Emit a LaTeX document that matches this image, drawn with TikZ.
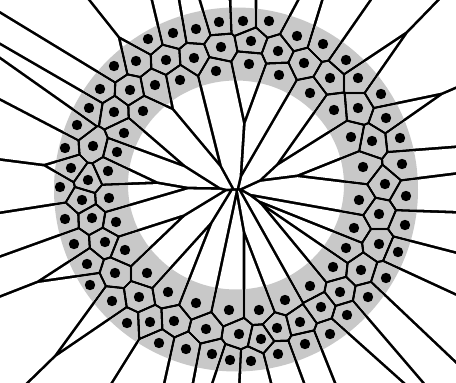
\documentclass[tikz,border=0pt]{standalone}
\definecolor{annul}{RGB}{200,200,200}
\makeatletter
\def\vorpts{148/39,136/61,166/60,114/66,130/90,155/85,100/89,89/108,114/112,143/111,77/125,124/133,93/146,65/148,117/152,71/168,108/171,88/180,60/187,109/198,82/200,65/219,92/218,116/222,74/244,105/242,125/250,87/264,115/273,147/273,90/285,112/301,139/297,168/292,196/303,127/323,150/322,174/321,206/329,159/343,186/349,212/354,230/360,229/310,239/334,251/361,261/339,259/310,277/328,278/354,285/300,305/344,300/322,330/334,321/307,310/286,340/292,333/267,347/315,368/297,361/270,386/278,346/248,379/244,398/252,354/228,405/225,379/214,359/200,406/196,385/184,363/167,402/164,351/137,372/141,400/138,334/110,358/108,386/118,310/93,381/94,330/78,358/78,304/63,346/60,323/44,297/36,279/75,278/51,269/21,249/64,251/41,243/21,216/71,221/47,219/22,194/58,196/29,173/33,180/80}
\newcount\vdx \newcount\vdy \newcount\vL \newcount\vnx \newcount\vny
\newcount\vcx \newcount\vcy \newcount\vmx \newcount\vmy
\newcount\vox \newcount\voy \newcount\vlen
\def\vorsplit#1/#2\@nil{\def\qx{#1}\def\qy{#2}}
\def\vorpt#1#2{\pgfqpoint{\dimexpr#1\relax}{-\dimexpr#2\relax}}
% half line width 1.4pt = 91750sp; times 10 (length in tenths of pt)
\def\vorhalf{917504}
\def\vorclip{%
  \vdx=\numexpr\qx-\px\relax
  \vdy=\numexpr\qy-\py\relax
  \vL=\numexpr\ifnum\vdx<0 -\fi\vdx+\ifnum\vdy<0 -\fi\vdy\relax
  \ifnum\vL>0
    \vnx=\numexpr(-\vdy*65536/\vL)*2000\relax
    \vny=\numexpr(\vdx*65536/\vL)*2000\relax
    \vcx=\numexpr(-\vdx*65536/\vL)*2000\relax
    \vcy=\numexpr(-\vdy*65536/\vL)*2000\relax
    \vmx=\numexpr\qx+\px\relax
    \vmy=\numexpr\qy+\py\relax
    \pgfmathveclen{\the\vdx}{\the\vdy}%
    \vlen=\dimexpr\pgfmathresult pt\relax
    \vlen=\numexpr\vlen/6554\relax
    \vox=\numexpr-\vdx*\vorhalf/\vlen\relax
    \voy=\numexpr-\vdy*\vorhalf/\vlen\relax
    \pgfpathmoveto{\vorpt{\vmx pt/2+\vnx sp+\vox sp}{\vmy pt/2+\vny sp+\voy sp}}%
    \pgfpathlineto{\vorpt{\vmx pt/2-\vnx sp+\vox sp}{\vmy pt/2-\vny sp+\voy sp}}%
    \pgfpathlineto{\vorpt{\vmx pt/2+\vcx sp}{\vmy pt/2+\vcy sp}}%
    \pgfpathclose
    \pgfusepath{clip}%
  \fi}
\def\vorbg{%
  \pgfsetfillcolor{white}%
  \pgfpathrectangle{\pgfqpoint{-5pt}{-390pt}}{\pgfqpoint{470pt}{395pt}}%
  \pgfusepath{fill}%
  \pgfsetfillcolor{annul}%
  \pgfseteorule
  \pgfpathcircle{\pgfqpoint{236pt}{-189.5pt}}{182pt}%
  \pgfpathellipse{\pgfqpoint{236pt}{-185pt}}{\pgfqpoint{108pt}{0pt}}{\pgfqpoint{0pt}{104.5pt}}%
  \pgfusepath{fill}}
\def\vordraw{%
  \pgf@relevantforpicturesizefalse
  \@for\vp:=\vorpts\do{%
    \expandafter\vorsplit\vp\@nil
    \let\px\qx \let\py\qy
    \pgfscope
      \@for\vq:=\vorpts\do{\expandafter\vorsplit\vq\@nil\vorclip}%
      \vorbg
    \endpgfscope}}
\makeatother
\tikzset{seed/.style={fill=black}}
\begin{document}
\begin{tikzpicture}
\path[use as bounding box] (0pt,0pt) rectangle (456pt,-383pt);
\fill[black] (-5pt,5pt) rectangle (461pt,-388pt);
\vordraw
\foreach \x/\y in \vorpts {\fill[seed] (\x pt,-\y pt) circle (5.2pt);}
\end{tikzpicture}
\end{document}
